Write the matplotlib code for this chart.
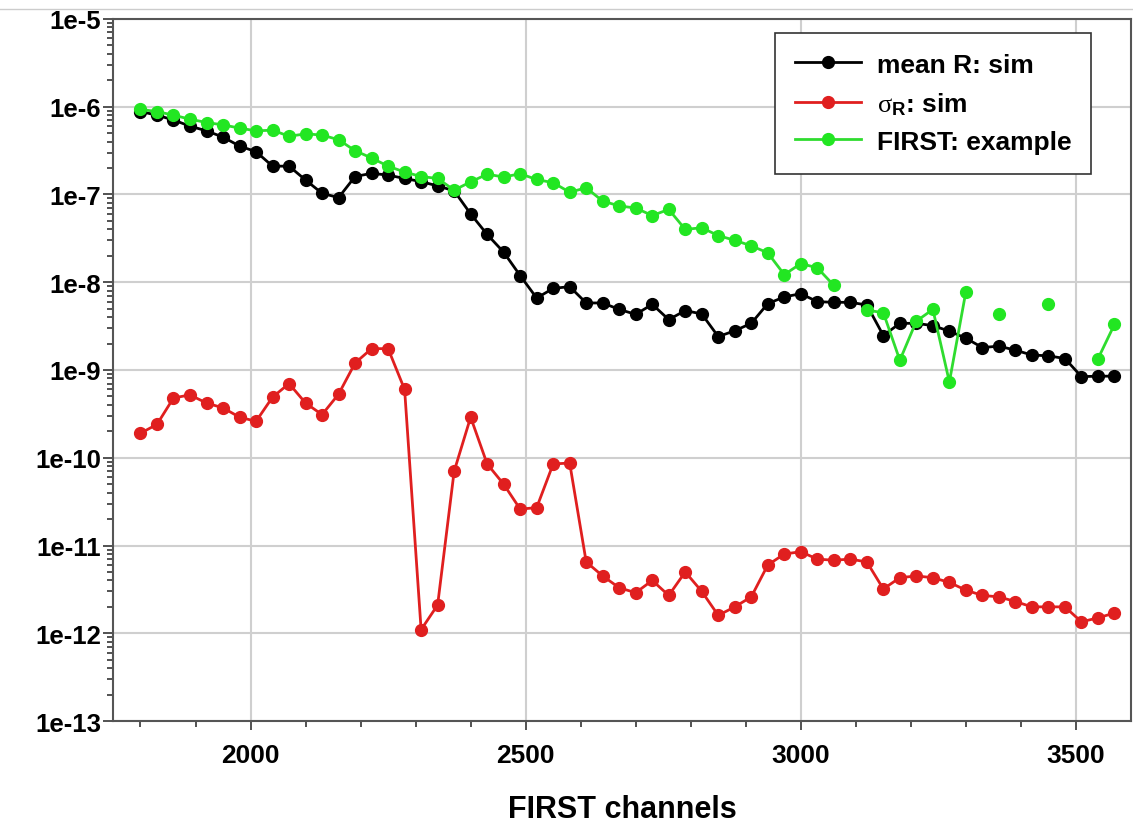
import numpy as np
import matplotlib
matplotlib.use("Agg")
import matplotlib.pyplot as plt
from matplotlib.ticker import FixedLocator, FuncFormatter, LogLocator, NullFormatter
from matplotlib.lines import Line2D

plt.rcParams['font.family'] = ['Liberation Sans', 'DejaVu Sans']
plt.rcParams['mathtext.fontset'] = 'custom'
plt.rcParams['mathtext.rm'] = 'Liberation Serif'
plt.rcParams['mathtext.it'] = 'Liberation Serif:italic'
plt.rcParams['mathtext.bf'] = 'Liberation Sans:bold'

# channels, one point every 30
channels = list(range(1800, 3600, 30))

mean_r = [8.8e-7, 8.0e-7, 7.05e-7, 6.0e-7, 5.3e-7, 4.5e-7, 3.56e-7, 3.07e-7, 2.1e-7, 2.1e-7,
          1.46e-7, 1.03e-7, 9.2e-8, 1.6e-7, 1.74e-7, 1.66e-7, 1.52e-7, 1.4e-7, 1.25e-7, 1.1e-7,
          6.0e-8, 3.5e-8, 2.2e-8, 1.19e-8, 6.6e-9, 8.5e-9, 8.9e-9, 5.8e-9, 5.8e-9, 4.9e-9,
          4.3e-9, 5.6e-9, 3.75e-9, 4.75e-9, 4.35e-9, 2.4e-9, 2.8e-9, 3.4e-9, 5.7e-9, 6.8e-9,
          7.4e-9, 6.0e-9, 5.9e-9, 5.9e-9, 5.5e-9, 2.47e-9, 3.4e-9, 3.4e-9, 3.2e-9, 2.77e-9,
          2.3e-9, 1.8e-9, 1.87e-9, 1.68e-9, 1.48e-9, 1.45e-9, 1.35e-9, 8.4e-10, 8.5e-10, 8.5e-10]

sigma_r = [1.9e-10, 2.4e-10, 4.8e-10, 5.2e-10, 4.2e-10, 3.7e-10, 2.9e-10, 2.6e-10, 4.9e-10, 7.0e-10,
           4.2e-10, 3.1e-10, 5.3e-10, 1.2e-9, 1.75e-9, 1.75e-9, 6.0e-10, 1.1e-12, 2.1e-12, 7.0e-11,
           2.9e-10, 8.5e-11, 5.0e-11, 2.6e-11, 2.7e-11, 8.5e-11, 8.7e-11, 6.5e-12, 4.5e-12, 3.3e-12,
           2.9e-12, 4.0e-12, 2.7e-12, 5.0e-12, 3.0e-12, 1.6e-12, 2.0e-12, 2.6e-12, 6.0e-12, 8.0e-12,
           8.5e-12, 7.0e-12, 6.8e-12, 7.0e-12, 6.5e-12, 3.2e-12, 4.3e-12, 4.5e-12, 4.3e-12, 3.8e-12,
           3.1e-12, 2.7e-12, 2.6e-12, 2.3e-12, 2.0e-12, 2.0e-12, 2.0e-12, 1.35e-12, 1.5e-12, 1.7e-12]

nan = np.nan
first_example = [9.3e-7, 8.8e-7, 8.0e-7, 7.2e-7, 6.6e-7, 6.2e-7, 5.7e-7, 5.3e-7, 5.4e-7, 4.6e-7,
                 4.9e-7, 4.75e-7, 4.2e-7, 3.15e-7, 2.6e-7, 2.1e-7, 1.8e-7, 1.6e-7, 1.52e-7, 1.12e-7,
                 1.39e-7, 1.7e-7, 1.58e-7, 1.72e-7, 1.48e-7, 1.36e-7, 1.06e-7, 1.19e-7, 8.4e-8, 7.4e-8,
                 7.0e-8, 5.75e-8, 6.75e-8, 4.0e-8, 4.17e-8, 3.4e-8, 3.0e-8, 2.6e-8, 2.16e-8, 1.22e-8,
                 1.63e-8, 1.46e-8, 9.2e-9, nan, 4.8e-9, 4.5e-9, 1.29e-9, 3.6e-9, 4.9e-9, 7.3e-10,
                 7.8e-9, nan, 4.35e-9, nan, nan, 5.6e-9, nan, nan, 1.34e-9, 3.3e-9]

x_ticks = [2000, 2500, 3000, 3500]

fig = plt.figure(figsize=(11.33, 8.29), dpi=100)
ax = fig.add_axes([0.0997, 0.129, 0.8985, 0.847])

ax.plot(channels, mean_r, color="black", lw=2, marker="o", ms=8.5, label="mean R: sim", zorder=4)
ax.plot(channels, sigma_r, color="#e01f1f", lw=2, marker="o", ms=8.5,
        label=r"$\mathrm{\sigma}_{\mathbf{R}}$: sim", zorder=3)
ax.plot(channels, first_example, color="#2fdc2f", lw=2, marker="o", ms=8.5,
        mfc="#22e622", mec="#22e622", label="FIRST: example", zorder=5)

ax.set_yscale("log")
ax.set_ylim(1e-13, 1e-5)
ax.set_xlim(1750, 3600)

ax.yaxis.set_major_locator(LogLocator(base=10, numticks=20))
ax.yaxis.set_major_formatter(FuncFormatter(lambda v, p: "1e%d" % round(np.log10(v))))
ax.yaxis.set_minor_locator(LogLocator(base=10, subs=np.arange(2, 10), numticks=20))
ax.yaxis.set_minor_formatter(NullFormatter())

ax.xaxis.set_major_locator(FixedLocator(x_ticks))
ax.xaxis.set_minor_locator(FixedLocator(range(1800, 3600, 100)))

ax.grid(True, which="major", color="#cfcfcf", lw=1.5)
ax.set_axisbelow(True)

ax.tick_params(axis="both", which="both", direction="out", color="#444444", width=1.3)
ax.tick_params(axis="y", which="major", labelsize=18.5, length=7, pad=1.5)
ax.tick_params(axis="y", which="minor", length=4)
ax.tick_params(axis="x", which="major", labelsize=19, length=6.5, pad=9)
ax.tick_params(axis="x", which="minor", length=4.3)
for lab in ax.get_xticklabels() + ax.get_yticklabels():
    lab.set_fontweight("bold")

for s in ax.spines.values():
    s.set_color("#555555")
    s.set_linewidth(1.5)

ax.set_xlabel("FIRST channels", fontsize=22, fontweight="bold", labelpad=20)

leg = ax.legend(loc="upper right", bbox_to_anchor=(0.9607, 0.980), borderaxespad=0,
                prop={"weight": "bold", "size": 19}, handlelength=2.5, handletextpad=0.6,
                fancybox=False, framealpha=1, edgecolor="#333333",
                borderpad=0.75, labelspacing=0.5)
leg.get_frame().set_linewidth(1.2)

fig.add_artist(Line2D([0, 1], [0.988, 0.988], color="#cccccc", lw=1, transform=fig.transFigure))

plt.savefig("out.png", dpi=100)
